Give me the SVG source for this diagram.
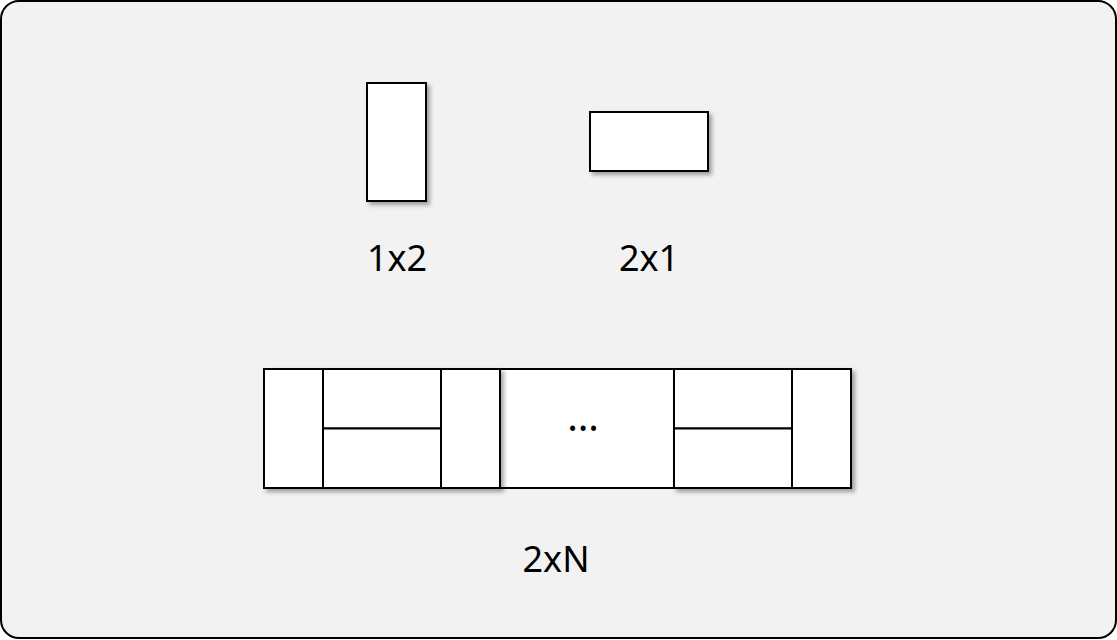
<svg xmlns="http://www.w3.org/2000/svg" width="1117" height="640" viewBox="0 0 1117 640">
<defs>
<filter id="sh" x="-20%" y="-20%" width="140%" height="140%">
<feDropShadow dx="3" dy="3" stdDeviation="2" flood-color="#000" flood-opacity="0.35"/>
</filter>
</defs>
<style>
.cell{fill:#fff;stroke:#000;stroke-width:2}
.lbl{font-family:"Noto Sans","Liberation Sans",sans-serif;font-size:36px;fill:#000;text-anchor:middle}
</style>
<rect id="bg" x="1" y="1" width="1115" height="637" rx="18" ry="18" fill="#f2f2f2" stroke="#000" stroke-width="2"/>
<g id="n1x2">
<rect class="cell" x="367" y="83" width="59" height="118" filter="url(#sh)"/>
<text class="lbl" x="397" y="271">1x2</text>
</g>
<g id="n2x1">
<rect class="cell" x="590" y="112" width="118" height="59" filter="url(#sh)"/>
<text class="lbl" x="649" y="271">2x1</text>
</g>
<g id="n2xN">
<rect class="cell" x="500" y="369" width="174" height="119"/>
<text class="lbl" x="583" y="431" style="font-size:40px">…</text>
<g filter="url(#sh)">
<rect class="cell" x="264" y="369" width="59" height="119"/>
<rect class="cell" x="323" y="369" width="118" height="59.5"/>
<rect class="cell" x="323" y="428.5" width="118" height="59.5"/>
<rect class="cell" x="441" y="369" width="59" height="119"/>
</g>
<g filter="url(#sh)">
<rect class="cell" x="674" y="369" width="118" height="59.5"/>
<rect class="cell" x="674" y="428.5" width="118" height="59.5"/>
<rect class="cell" x="792" y="369" width="59" height="119"/>
</g>
<text class="lbl" x="556" y="572">2xN</text>
</g>
<g id="connectors"/>
</svg>
